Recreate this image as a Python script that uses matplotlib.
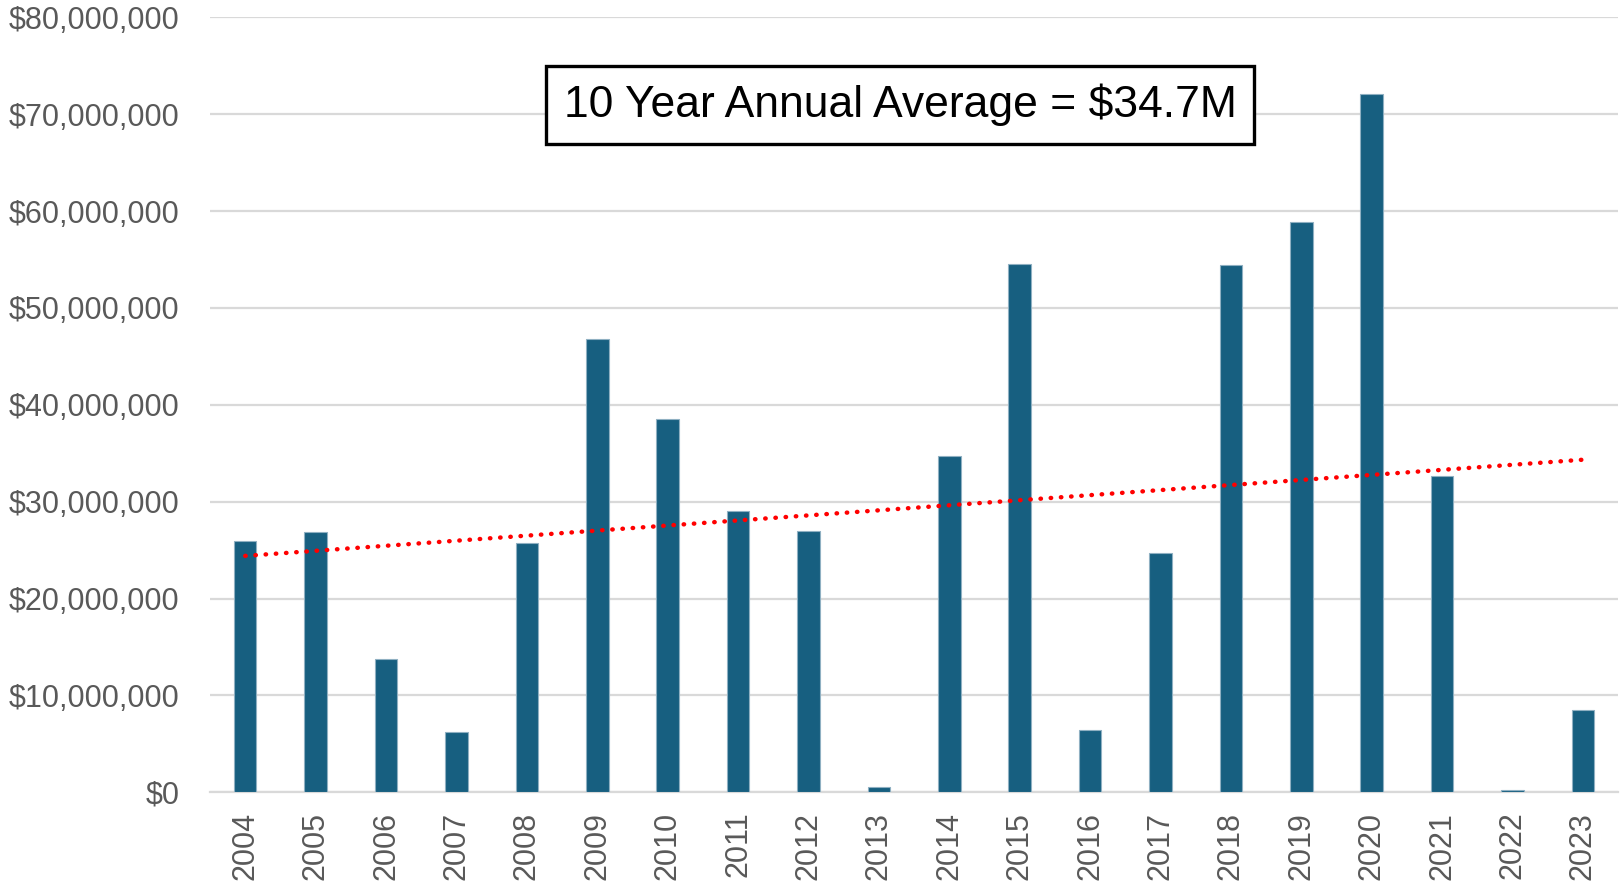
import numpy as np
import matplotlib
matplotlib.use("Agg")
import matplotlib.pyplot as plt
from matplotlib.ticker import FuncFormatter

years = list(range(2004, 2024))
amounts_m = [25.9, 26.9, 13.8, 6.2, 25.7, 46.8, 38.5, 29.0, 27.0, 0.5,
             34.7, 54.5, 6.4, 24.7, 54.4, 58.9, 72.1, 32.6, 0.2, 8.5]
amounts = [a * 1e6 for a in amounts_m]
note = "10 Year Annual Average = $34.7M"

plt.rcParams['font.family'] = ['Liberation Sans', 'DejaVu Sans']

fig = plt.figure(figsize=(16.23, 8.86), dpi=100)
ax = fig.add_axes([0.1294, 0.1058, 0.8676, 0.8747])

x = np.arange(len(years))
ax.bar(x, amounts, width=0.32, color='#175f80', edgecolor='#8fb0c2', linewidth=0.8, zorder=3)

# linear trend line
k, b = np.polyfit(x, amounts, 1)
ax.plot(x, k * x + b, color='red', linestyle=(0, (0.1, 2.2)), linewidth=3.2,
        dash_capstyle='round', zorder=4)

ax.set_xlim(-0.5, len(years) - 0.5)
ax.set_ylim(0, 80e6)
ax.set_yticks(np.arange(0, 80e6 + 1, 10e6))
ax.yaxis.set_major_formatter(FuncFormatter(lambda v, p: '${:,.0f}'.format(v)))
ax.set_xticks(x)
ax.set_xticklabels([str(y) for y in years], rotation=90)
ax.tick_params(axis='y', length=0, pad=22, labelsize=22, labelcolor='#595959')
ax.tick_params(axis='x', length=0, pad=14, labelsize=22, labelcolor='#595959')

ax.grid(axis='y', color='#d9d9d9', linewidth=1.6, zorder=0)
for s in ['top', 'right', 'left']:
    ax.spines[s].set_visible(False)
ax.spines['bottom'].set_color('#d9d9d9')
ax.spines['bottom'].set_linewidth(1.6)

ax.text(0.49, 0.887, note, transform=ax.transAxes, ha='center', va='center',
        fontsize=32, color='black', zorder=5,
        bbox=dict(boxstyle='square,pad=0.4', facecolor='white', edgecolor='black', linewidth=2.4))

fig.savefig('out.png', dpi=100)
